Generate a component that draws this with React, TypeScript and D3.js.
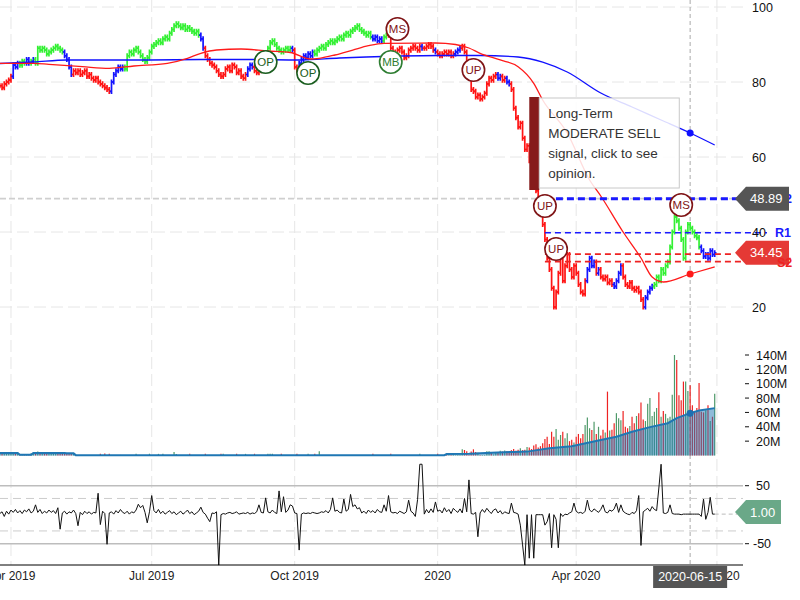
import React from "react";
import * as d3 from "d3";

// ---------- DATA ----------
const startDate = "2019-03-25";
const holidays = ["2019-04-19","2019-05-27","2019-07-04","2019-09-02","2019-11-28","2019-12-25","2020-01-01","2020-01-20","2020-02-17","2020-04-10","2020-05-25"];
const barCount = 321;

const closes = [
  79,78.5,79.5,80,80.5,81.5,84.5,84,85,84.5,
  85.5,85,86,85,85.5,86,85,89,88.5,89,
  88.5,87.5,88,88.5,89,89.5,89,88.5,88,87,
  86,84,82,83,82.5,83,82,82.5,83,81.5,
  82,81,80.5,81,80,79.5,79,78.5,78,77.5,
  80,82,83,84,83.5,84,83.5,87,88,87.5,
  88.5,89,88,87,86,85.5,86.5,88,89.5,90,
  90.5,91,90.5,91.5,92,91.5,93,94,95,95.5,
  95,94.5,95,94,94.5,94,93.5,93,93.5,92.5,
  91.5,89,87,86,85,84.5,84,83,82,81.5,
  82,83.5,84,83,84.5,84,82.5,83,81.5,81,
  82,83.5,84.5,84,83,82.5,83,84,85,87,
  89,90.5,91,90,89,88.5,88,88.5,89,88.5,
  89,88.5,84,83,85,86,87,86.5,87.5,87,
  88,87.5,88.5,89,89.5,89,90,90.5,91,90.5,
  91,91.5,92,91.5,92.5,93,92.5,93.5,94,94.5,
  95,94,93.5,93,92.5,93,92,91.5,92,91,
  91.5,91,92,92.5,93,89,88,87.5,88.5,89,
  88,86.5,87,88.5,89,89.5,89,88.5,89.5,89,
  89,89.5,90,89.5,88.5,88,87.5,87,87.5,88,
  87.5,88,87,87.5,88,88.5,89,89.5,88,85.5,
  81,78,77.5,76,76.5,75.5,76,77,79.5,81,
  80.5,81.5,82,81,81.5,80.5,81,80,79.5,78,
  73,70.5,68,69,65,62,63,59,57,54,
  51,49,47,42,38,33,30,25,20,24,
  29,33,27,31,34,30,28,31,29,26,
  24,23.5,27,30,33,31,32,29,30,28,
  27.5,28,26.5,27,26,25.5,27,29,31,28,
  26,25.5,26.5,25,24.5,25,24,22,20,22.5,
  24,25,25.5,26,28,27,30,29,31,32,
  36,40,44,43,41,38,33,40,42,41,
  40,39,38.5,36,35,33.5,34,33,35,34,34.45
];

const colorRuns: [string, number][] = [["r",6],["b",3],["g",3],["b",2],["g",1],["b",1],["g",13],["b",4],["r",17],["b",6],["g",34],["b",2],["r",19],["b",3],["r",5],["g",12],["b",1],["r",2],["b",7],["g",26],["b",5],["g",2],["r",15],["b",1],["r",5],["b",1],["r",8],["b",3],["r",16],["b",2],["r",2],["b",2],["r",34],["b",4],["r",1],["b",1],["r",6],["b",4],["r",10],["b",4],["g",21],["b",7]];

const volumes = [
  3.5,3.8,3.2,3.6,3.4,3.9,3.5,3.3,3.7,1.2,
  1.0,1.3,1.1,1.2,3.0,3.6,3.4,5.5,3.3,3.7,
  3.5,3.4,3.8,3.6,3.5,3.3,3.7,3.4,3.6,3.5,
  3.2,3.1,3.3,3.0,0.8,0.6,0.7,0.5,0.8,0.6,
  0.7,0.5,0.6,0.8,0.7,2.5,0.6,2.8,0.7,2.6,
  0.6,0.5,0.7,0.6,0.8,0.5,0.6,0.7,0.5,0.6,
  0.7,2.4,0.6,0.5,0.7,0.6,0.8,2.5,0.6,0.5,
  0.7,2.3,0.6,2.6,0.5,0.7,0.6,0.8,4.8,2.2,
  0.6,0.5,0.7,0.6,0.8,2.4,0.6,0.5,0.7,0.6,
  0.5,0.7,2.5,0.6,0.8,0.5,0.6,0.7,0.5,2.3,
  2.4,0.6,0.7,0.5,0.6,0.8,2.5,0.6,0.5,0.7,
  2.3,0.6,0.5,0.7,2.4,0.6,0.8,0.5,0.6,0.7,
  2.5,2.3,2.4,0.6,0.5,0.7,2.3,0.6,0.8,0.5,
  0.6,0.7,0.5,2.4,0.6,0.8,0.5,0.6,2.5,0.7,
  0.5,2.3,0.6,5.8,0.7,0.5,0.6,0.8,0.5,0.7,
  0.6,0.5,0.7,0.8,0.6,0.5,0.7,0.6,0.8,0.5,
  0.6,0.7,0.5,0.6,0.8,0.7,0.5,2.4,0.6,0.7,
  0.5,0.6,0.8,0.7,0.5,2.3,0.6,0.7,0.5,0.6,
  0.8,0.7,0.5,0.6,0.7,0.5,0.8,0.6,2.5,0.7,
  0.5,0.6,0.7,0.8,0.6,0.5,2.4,0.7,0.6,0.5,
  2.6,0.7,0.6,2.3,0.5,0.8,0.7,8.6,7.7,6.0,
  0.8,5.5,8.6,5.0,4.0,0.7,0.6,0.8,6.0,6.0,
  4.0,1.5,5.0,4.5,6.5,5.5,7.0,6.0,5.0,7.5,
  9.0,6.5,8.0,10.0,7.5,8.0,12.0,11.0,9.0,14.0,
  15.6,11.0,13.0,17.0,23.0,26.0,16.0,33.0,26.0,37.0,
  22.0,28.6,33.0,24.0,31.0,20.0,22.0,18.0,26.0,30.0,
  24.0,30.0,42.6,53.0,38.0,35.6,47.0,30.0,40.0,28.0,
  36.0,32.0,89.0,35.0,36.0,45.0,59.0,52.0,49.0,62.0,
  40.0,38.0,41.0,54.0,45.0,55.0,59.0,74.0,50.0,48.0,
  72.0,80.0,55.0,61.0,66.0,88.0,54.0,62.0,58.0,52.0,
  54.0,84.5,140.0,133.0,84.0,77.0,103.0,103.0,90.0,98.0,
  70.0,61.0,66.0,101.0,61.0,60.0,63.0,70.0,48.0,54.0,86.0
];

const oscillator = [
  2,5,-3,6,1,8,4,9,3,7,
  2,8,5,10,3,6,17,4,9,2,
  6,3,8,4,7,2,12,-25,3,6,
  1,5,3,8,2,-19,4,0,6,2,
  5,1,4,3,37,-17,6,2,-51,3,
  5,1,7,3,9,4,2,6,1,5,
  3,8,18,12,16,4,-14,5,33,7,
  3,9,2,6,1,4,7,2,5,0,
  3,6,1,4,8,2,5,0,3,6,
  13,4,1,-6,-12,3,2,5,-87,0,
  2,1,3,4,2,3,5,1,2,3,
  2,4,1,3,2,5,17,4,3,29,
  5,3,8,4,2,41,5,31,4,8,
  17,15,3,2,-61,1,3,2,3,2,
  4,3,2,3,5,4,7,3,9,29,
  6,8,4,3,27,6,9,35,14,17,
  10,12,3,6,2,8,4,7,3,9,
  5,4,17,6,33,5,3,4,2,6,
  4,2,5,25,6,3,-3,26,87,87,
  1,9,3,10,4,22,6,8,3,12,
  5,9,2,11,7,4,10,3,28,5,
  60,2,1,4,-38,3,9,4,11,6,
  2,8,10,3,7,1,5,3,2,20,
  4,3,1,-18,-52,-87,0,-75,0,-75,
  0,0,0,0,-18,-12,2,-57,0,-8,
  -57,2,-3,1,0,3,5,20,6,3,
  4,2,6,25,8,5,10,7,4,9,
  17,5,3,8,6,10,20,4,17,6,
  3,1,0,4,2,7,33,-53,5,8,
  11,6,14,9,7,46,87,3,2,4,
  17,2,1,1,1,0,1,1,1,1,
  1,1,1,1,-3,27,-8,4,30,1,1
];

const blueMaIdx = [0,15,30,45,67,90,112,134,152,164,179,197,215,232,243,254,269,283,296,309,320];
const blueMaVal = [84.93,85.33,85.87,85.87,85.87,86.0,86.0,85.87,86.4,86.67,86.93,87.07,87.07,86.67,85.33,82.67,77.07,73.33,69.87,66.4,63.2];

const redMaIdx = [0,15,22,37,49,60,75,84,90,97,108,120,130,139,143,150,158,165,172,195,204,210,215,224,232,239,243,254,264,269,279,287,292,297,309,320];
const redMaVal = [84.99,84.99,84.72,84.08,83.65,84.27,84.99,86.32,87.65,88.53,88.8,88.27,87.87,86.13,86.32,87.2,88.53,89.68,90.32,90.4,90.0,89.07,87.65,85.87,84.08,79.65,75.2,66.4,53.87,49.6,40,33.07,28,26.67,28.8,30.67];

const volMaIdx = [0,8,9,14,15,29,30,33,34,199,200,210,220,230,236,246,256,269,276,283,291,299,303,309,313,320];
const volMaVal = [3.5,3.5,1,1,3.5,3.5,3,3,0.5,0.5,2,2.5,4,5,5.4,10,13,21.6,26.2,33,39.5,45,52,59,62.7,66];

const signalIdx = [119,138,175,178,212,244,249,305];
const signalLabel = ["OP","OP","MB","MS","UP","UP","UP","MS"];
const signalPrice = [85.33,82.4,85.33,94.13,83.2,46.93,35.47,47.2];

const levelNames = ["R2","R1","S1","S2"];
const levelValues = [48.89,39.8,34.1,32.1];
const levelStartIdx = 244;

const xTickDates = ["2019-04-01","2019-07-01","2019-10-01","2020-01-01","2020-04-01","2020-07-01"];
const xTickLabels = ["Apr 2019","Jul 2019","Oct 2019","2020","Apr 2020","Jul 2020"];
const priceTicks = [100,80,60,40,20];
const volumeTicks = [20,40,60,80,100,120,140];
const oscTicks = [50,-50];
const oscBands = [28,-28];

const crossIdx = 309;
const crossLabel = "2020-06-15";
const crossPrice = 48.89;
const lastClose = 34.45;
const oscLast = 1.0;
const tipIdx = 237;
const tipLines = ["Long-Term","MODERATE SELL","signal, click to see","opinion."];

// ---------- HELPERS ----------
function tradingDates(): Date[] {
  const out: Date[] = [];
  const fmt = d3.utcFormat("%Y-%m-%d");
  let d = new Date(startDate + "T00:00:00Z");
  while (out.length < barCount) {
    const dow = d.getUTCDay();
    if (dow !== 0 && dow !== 6 && !holidays.includes(fmt(d))) out.push(new Date(d));
    d = d3.utcDay.offset(d, 1);
  }
  return out;
}

const FONT = "Liberation Sans, Arial, Helvetica, sans-serif";
const COL: Record<string, string> = { r: "#ff1414", g: "#33f033", b: "#1414ff" };

export default function App() {
  const dates = tradingDates();
  const x = d3.scaleLinear().domain([0, 320]).range([-0.2, 714.7]);
  const yP = d3.scaleLinear().domain([20, 100]).range([307, 7]);
  const yV = d3.scaleLinear().domain([0, 140]).range([455.5, 355]);
  const yO = d3.scaleLinear().domain([-50, 50]).range([543.7, 485.7]);

  const barColors: string[] = colorRuns.flatMap(([c, n]) => Array(n).fill(c));

  const tickIdx = xTickDates.map((s) => {
    const t = new Date(s + "T00:00:00Z").getTime();
    const k = dates.findIndex((d) => d.getTime() >= t);
    return k < 0 ? dates.length : k;
  });

  const maLine = d3.line<[number, number]>().x((d) => x(d[0])).y((d) => yP(d[1])).curve(d3.curveMonotoneX);
  const bluePts: [number, number][] = blueMaIdx.map((v, k) => [v, blueMaVal[k]]);
  const redPts: [number, number][] = redMaIdx.map((v, k) => [v, redMaVal[k]]);
  const volPts: [number, number][] = volMaIdx.map((v, k) => [v, volMaVal[k]]);
  const volArea = d3.area<[number, number]>().x((d) => x(d[0])).y0(yV(0)).y1((d) => yV(d[1]));
  const volLine = d3.line<[number, number]>().x((d) => x(d[0])).y((d) => yV(d[1]));
  const oscLine = d3.line<number>().x((_, i) => x(i)).y((d) => yO(d));

  const interp = (idx: number[], val: number[], i: number) => {
    for (let k = 0; k < idx.length - 1; k++) {
      if (i >= idx[k] && i <= idx[k + 1]) return val[k] + (val[k + 1] - val[k]) * (i - idx[k]) / (idx[k + 1] - idx[k]);
    }
    return val[val.length - 1];
  };

  const cx = x(crossIdx);
  const tipX = x(tipIdx);
  const lvlEnds = [783, 767, 733, 777];
  const lvlColors = ["#1a1aff", "#1a1aff", "#ee2222", "#ee2222"];

  const arrowLabel = (cy: number, fill: string, text: string, x0 = 735, x1 = 789, h = 24) => (
    <g>
      <path d={`M${x0},${cy}L${x0 + 11},${cy - h / 2}H${x1}V${cy + h / 2}H${x0 + 11}Z`} fill={fill} />
      <text x={x0 + 15} y={cy + 4.5} fill="#fff" fontSize={13} fontFamily={FONT}>{text}</text>
    </g>
  );

  return (
    <div style={{ position: "absolute", left: 0, top: 0 }}>
      <svg width={800} height={600} style={{ display: "block", background: "#fff" }}>
        <defs>
          <clipPath id="plotClip"><rect x={0} y={0} width={745} height={565} /></clipPath>
          <clipPath id="oscClip"><rect x={0} y={463} width={745} height={102.5} /></clipPath>
        </defs>

        {/* gridlines */}
        {priceTicks.map((t) => (
          <line key={"hg" + t} x1={0} x2={745} y1={yP(t)} y2={yP(t)} stroke="#e6e6e6" strokeDasharray="12,5" />
        ))}
        {tickIdx.map((k, j) => (
          <line key={"vg" + j} x1={x(k)} x2={x(k)} y1={0} y2={565} stroke="#e6e6e6" strokeDasharray="12,5" />
        ))}

        {/* crosshair */}
        <line x1={0} x2={735} y1={yP(crossPrice)} y2={yP(crossPrice)} stroke="#cfcfcf" strokeWidth={1.6} strokeDasharray="6,3" />
        <line x1={cx} x2={cx} y1={0} y2={565} stroke="#aaa" strokeDasharray="4,3" />

        <g clipPath="url(#plotClip)">
          {/* price bars */}
          {closes.map((c, i) => {
            const o = i > 0 ? closes[i - 1] : c;
            const hi = Math.max(o, c), lo = Math.min(o, c);
            const xi = x(i);
            return (
              <path key={"b" + i}
                d={`M${xi},${yP(hi) - 2.6}V${yP(lo) + 2.6}M${xi - 1.8},${yP(o)}H${xi}M${xi},${yP(c)}H${xi + 1.8}`}
                stroke={COL[barColors[i]]} strokeWidth={1.7} fill="none" />
            );
          })}

          {/* moving averages */}
          <path d={maLine(bluePts) || ""} fill="none" stroke="#1010ff" strokeWidth={1.3} />
          <path d={maLine(redPts) || ""} fill="none" stroke="#ff1a1a" strokeWidth={1.3} />

          {/* volume */}
          {volumes.map((v, i) => {
            const up = i === 0 || closes[i] >= closes[i - 1];
            return <line key={"v" + i} x1={x(i)} x2={x(i)} y1={yV(0)} y2={yV(v)} stroke={up ? "#4f9a6a" : "#ee2222"} strokeWidth={1.2} />;
          })}
          <path d={volArea(volPts) || ""} fill="#1f77b4" fillOpacity={0.5} />
          <path d={volLine(volPts) || ""} fill="none" stroke="#1f77b4" strokeWidth={2} />
        </g>

        {/* support / resistance levels */}
        {levelValues.map((v, k) => (
          <line key={"lv" + k} x1={x(levelStartIdx)} x2={lvlEnds[k]} y1={yP(v)} y2={yP(v)}
            stroke={lvlColors[k]} strokeWidth={k === 0 ? 3 : 1.6} strokeDasharray={k === 0 ? "7,4" : "6,4"} />
        ))}

        {/* crosshair dots */}
        <circle cx={cx} cy={yP(interp(blueMaIdx, blueMaVal, crossIdx))} r={3.5} fill="#1010ff" />
        <circle cx={cx} cy={yP(interp(redMaIdx, redMaVal, crossIdx))} r={3.5} fill="#ff1a1a" />
        <circle cx={cx} cy={yV(interp(volMaIdx, volMaVal, crossIdx))} r={3.5} fill="#1f6fb0" />

        {/* signals */}
        {signalIdx.map((k, j) => {
          const lab = signalLabel[j];
          const col = lab === "MB" ? "#2e7d32" : lab === "OP" ? "#1b5e20" : "#7f1416";
          return (
            <g key={"s" + j}>
              <circle cx={x(k)} cy={yP(signalPrice[j])} r={11.2} fill="#fff" stroke={col} strokeWidth={1.6} />
              <text x={x(k)} y={yP(signalPrice[j]) + 4} textAnchor="middle" fontSize={11.5} fontFamily={FONT} fill={col}>{lab}</text>
            </g>
          );
        })}

        {/* oscillator */}
        {oscTicks.map((t) => (
          <line key={"ot" + t} x1={0} x2={743} y1={yO(t)} y2={yO(t)} stroke="#bdbdbd" strokeWidth={1.6} />
        ))}
        {oscBands.map((t) => (
          <line key={"ob" + t} x1={0} x2={743} y1={yO(t)} y2={yO(t)} stroke="#cccccc" strokeDasharray="8,5" />
        ))}
        <line x1={x(oscillator.length - 1)} x2={737} y1={yO(oscLast)} y2={yO(oscLast)} stroke="#bbb" strokeDasharray="4,3" />
        <g clipPath="url(#oscClip)">
          <path d={oscLine(oscillator) || ""} fill="none" stroke="#111" strokeWidth={1} />
        </g>

        {/* x axis */}
        <line x1={0} x2={743} y1={565} y2={565} stroke="#000" />
        {tickIdx.map((k, j) => (
          <text key={"xl" + j} x={x(k)} y={580} textAnchor="middle" fontSize={12} fontFamily={FONT} fill="#222">{xTickLabels[j]}</text>
        ))}
        <rect x={cx - 37} y={566} width={74} height={22} fill="#555" />
        <text x={cx} y={581} textAnchor="middle" fontSize={12.5} fontFamily={FONT} fill="#fff">{crossLabel}</text>

        {/* price axis */}
        {priceTicks.map((t) => (
          <text key={"pl" + t} x={752} y={yP(t) + 4.5} fontSize={12.5} fontFamily={FONT} fill="#111">{t}</text>
        ))}
        {/* volume axis */}
        {volumeTicks.map((t) => (
          <g key={"vl" + t}>
            <line x1={745} x2={749} y1={yV(t)} y2={yV(t)} stroke="#111" />
            <text x={756} y={yV(t) + 4.5} fontSize={12.5} fontFamily={FONT} fill="#111">{t}M</text>
          </g>
        ))}
        {/* oscillator axis */}
        {oscTicks.map((t) => (
          <g key={"oa" + t}>
            <line x1={745} x2={749} y1={yO(t)} y2={yO(t)} stroke="#111" />
            <text x={t < 0 ? 753 : 756} y={yO(t) + 4.5} fontSize={12.5} fontFamily={FONT} fill="#111">{t}</text>
          </g>
        ))}

        {/* level names and value labels */}
        <text x={776} y={yP(levelValues[0]) + 4.5} fontSize={12.5} fontWeight="bold" fontFamily={FONT} fill="#1a1aff">{levelNames[0]}</text>
        <text x={776} y={yP(levelValues[2]) + 4.5} fontSize={12.5} fontWeight="bold" fontFamily={FONT} fill="#ee2222">{levelNames[2]}</text>
        {arrowLabel(yP(crossPrice), "#555", crossPrice.toFixed(2))}
        {arrowLabel(yP(lastClose), "#e53935", lastClose.toFixed(2))}
        <text x={775} y={yP(levelValues[1]) + 4.5} fontSize={12.5} fontWeight="bold" fontFamily={FONT} fill="#1a1aff">{levelNames[1]}</text>
        <text x={777} y={yP(levelValues[3]) + 5.5} fontSize={12.5} fontWeight="bold" fontFamily={FONT} fill="#ee2222">{levelNames[3]}</text>
        {arrowLabel(yO(oscLast) - 2, "#6aa888", oscLast.toFixed(2), 735, 781)}

        {/* tooltip */}
        <rect x={tipX} y={97} width={10} height={93} fill="#861c1c" />
        <rect x={tipX + 10} y={98} width={140} height={90} fill="#fff" fillOpacity={0.85} stroke="#c8c8c8" />
        {tipLines.map((s, k) => (
          <text key={"tl" + k} x={tipX + 19} y={118 + k * 20} fontSize={13.5} fontFamily={FONT} fill="#333">{s}</text>
        ))}
      </svg>
    </div>
  );
}
